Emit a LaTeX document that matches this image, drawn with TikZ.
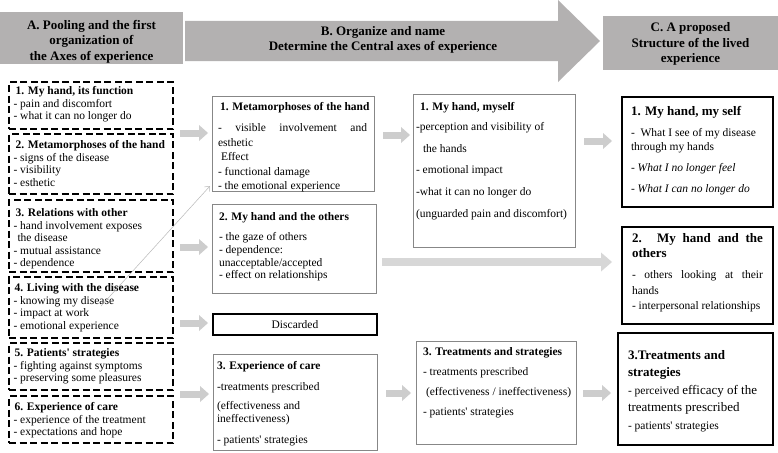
\documentclass[tikz,border=0pt]{standalone}
\usepackage{fontspec}
\setmainfont{Liberation Serif}
\usetikzlibrary{arrows.meta,calc}
\definecolor{headgray}{RGB}{179,177,177}
\definecolor{argray}{RGB}{205,205,205}
\definecolor{longgray}{RGB}{215,215,215}
\definecolor{bordergray}{RGB}{135,135,135}
\definecolor{thingray}{RGB}{185,185,185}
\begin{document}
\begin{tikzpicture}[x=1pt,y=-1pt,
  every node/.style={inner sep=0pt,outer sep=0pt},
  abox/.style={draw,line width=1.3pt,dash pattern=on 7pt off 3.5pt,anchor=north west},
  bbox/.style={draw=bordergray,line width=0.8pt,anchor=north west},
  dbox/.style={draw,line width=2.6pt,anchor=north west},
  discbox/.style={draw,line width=1.3pt,anchor=north west,font=\fontsize{11.5}{13}\selectfont},
  tx/.style={anchor=north west,align=left,font=\fontsize{11.5}{12.6}\selectfont},
  hd/.style={align=center,font=\fontsize{13}{15.5}\selectfont\bfseries},
  garrow/.style={draw=argray,line width=7pt,-{Triangle[length=9pt,width=16pt,line width=0pt]}},
  longarrow/.style={draw=longgray,line width=8pt,-{Triangle[length=11pt,width=19pt,line width=0pt]}},
  thinarrow/.style={draw=thingray,line width=0.5pt,-{Straight Barb[length=4pt,width=7pt]}},
]
\useasboundingbox (0,0) rectangle (778,452);
\fill[white] (0,0) rectangle (778,452);

% headers
\fill[headgray] (0,12) rectangle (183,64);
\node[hd] (ha) at (91.5,41.5) {A. Pooling and the first\\organization of\\the Axes of experience};
\fill[headgray] (185,21) -- (558,21) -- (558,0) -- (600,41) -- (558,82) -- (558,61) -- (185,61) -- cycle;
\node[hd] (hb) at (383,40) {B. Organize and name\\Determine the Central axes of experience};
\fill[headgray] (603,16) rectangle (778,70);
\node[hd] (hc) at (690.5,44) {C. A proposed\\Structure of the lived\\experience};

% column A
\node[abox,minimum width=164pt,minimum height=47pt] (a1) at (9,82) {};
\node[tx] (a1t) at (13.5,86.5) {\hspace*{2pt}\textbf{1. My hand, its function}\\- pain and discomfort\\- what it can no longer do};
\node[abox,minimum width=164pt,minimum height=60pt] (a2) at (9,134) {};
\node[tx] (a2t) at (13.5,140.5) {\hspace*{2pt}\textbf{2. Metamorphoses of the hand}\\- signs of the disease\\- visibility\\- esthetic};
\node[abox,minimum width=164pt,minimum height=72pt] (a3) at (9,200) {};
\node[tx] (a3t) at (13.5,208.5) {\hspace*{2pt}\textbf{3. Relations with other}\\- hand involvement exposes\\\hspace*{4pt}the disease\\- mutual assistance\\- dependence};
\node[abox,minimum width=164pt,minimum height=61pt] (a4) at (9,277) {};
\node[tx] (a4t) at (13.5,283.5) {\hspace*{1pt}\textbf{4. Living with the disease}\\- knowing my disease\\- impact at work\\- emotional experience};
\node[abox,minimum width=164pt,minimum height=47pt] (a5) at (9,343) {};
\node[tx] (a5t) at (13.5,348.5) {\hspace*{1pt}\textbf{5. Patients\textquotesingle{} strategies}\\- fighting against symptoms\\- preserving some pleasures};
\node[abox,minimum width=164pt,minimum height=47pt] (a6) at (9,396) {};
\node[tx] (a6t) at (13.5,402.5) {\hspace*{1pt}\textbf{6. Experience of care}\\- experience of the treatment\\- expectations and hope};

% column B
\node[bbox,minimum width=162pt,minimum height=95pt] (b1) at (212,96) {};
\node[tx,font=\fontsize{11.5}{14.5}\selectfont] (b1t) at (218,102.5) {\hspace*{2pt}\textbf{1. Metamorphoses of the hand}\\[6.5pt]\makebox[149pt][s]{- visible involvement and}\\esthetic\\\hspace*{3pt}Effect\\- functional damage\\- the emotional experience};
\node[bbox,minimum width=164pt,minimum height=89pt] (b2) at (212,204) {};
\node[tx,font=\fontsize{11.5}{12.8}\selectfont] (b2t) at (219,212.5) {\textbf{2. My hand and the others}\\[7.2pt]- the gaze of others\\- dependence:\\unacceptable/accepted\\- effect on relationships};
\node[discbox,minimum width=164pt,minimum height=21pt] (bd) at (213,314) {Discarded};
\node[bbox,minimum width=164pt,minimum height=96pt] (b3) at (213,354) {};
\node[tx,font=\fontsize{11.5}{13}\selectfont] (b3t) at (217,361.5) {\textbf{3. Experience of care}\\[8pt]-treatments prescribed\\[6pt](effectiveness and\\ineffectiveness)\\[8pt]- patients\textquotesingle{} strategies};

% column C
\node[bbox,minimum width=162pt,minimum height=153pt] (c1) at (413,94) {};
\node[tx,font=\fontsize{11.5}{21.8}\selectfont] (c1t) at (416,102.5) {\hspace*{4pt}\textbf{1. My hand, myself}\\[-2pt]-perception and visibility of\\\hspace*{7pt}the hands\\- emotional impact\\-what it can no longer do\\(unguarded pain and discomfort)};
\node[bbox,minimum width=160pt,minimum height=103pt] (c3) at (416,341) {};
\node[tx,font=\fontsize{11.5}{20}\selectfont] (c3t) at (423,347.5) {\textbf{3. Treatments and strategies}\\- treatments prescribed\\\hspace*{3pt}(effectiveness / ineffectiveness)\\- patients\textquotesingle{} strategies};

% column D
\node[dbox,minimum width=151pt,minimum height=110pt] (d1) at (622,97) {};
\node[tx,font=\fontsize{11.5}{14}\selectfont] (d1t) at (631,106) {{\fontsize{13}{15}\selectfont\bfseries 1. My hand, my self}\\[7.5pt]-\ \ What I see of my disease\\through my hands\\[7pt]\textit{- What I no longer feel}\\[7pt]\textit{- What I can no longer do}};
\node[dbox,minimum width=151pt,minimum height=97pt] (d2) at (622,227) {};
\node[tx,font=\fontsize{11.5}{15.5}\selectfont] (d2t) at (632,233) {{\fontsize{13}{15}\selectfont\bfseries\makebox[131pt][s]{2. My hand and the}}\\[-0.5pt]{\fontsize{13}{15}\selectfont\bfseries others}\\[6pt]\makebox[131pt][s]{-\ others looking at their}\\hands\\- interpersonal relationships};
\node[dbox,minimum width=155pt,minimum height=112pt] (d3) at (618,333) {};
\node[tx,font=\fontsize{11.5}{17.5}\selectfont] (d3t) at (628,350) {{\fontsize{13}{15}\selectfont\bfseries 3.Treatments and}\\{\fontsize{13}{15}\selectfont\bfseries strategies}\\- perceived {\fontsize{13}{15}\selectfont efficacy of the}\\{\fontsize{13}{15}\selectfont treatments prescribed}\\- patients\textquotesingle{} strategies};

% arrows A -> B
\coordinate (r1) at (180,133);
\coordinate (r2) at (180,247);
\coordinate (r3) at (180,323);
\coordinate (r4) at (180,394);
\draw[garrow] (r1) -- ($(b1.west |- r1)+(-4,0)$);
\draw[garrow] (r2) -- ($(b2.west |- r2)+(-4,0)$);
\draw[garrow] (r3) -- ($(bd.west |- r3)+(-5,0)$);
\draw[garrow] (r4) -- ($(b3.west |- r4)+(-4,0)$);
% arrows B -> C
\coordinate (s1) at (383,135);
\coordinate (s3) at (386,393);
\draw[garrow] (s1) -- ($(c1.west |- s1)+(-3,0)$);
\draw[garrow] (s3) -- ($(c3.west |- s3)+(-5,0)$);
% long arrow B2 -> D2
\coordinate (s2) at (382,262);
\draw[longarrow] (s2) -- ($(d2.west |- s2)+(-10,0)$);
% arrows C -> D
\coordinate (t1) at (584,141);
\coordinate (t3) at (583,393);
\draw[garrow] (t1) -- ($(d1.west |- t1)+(-10,0)$);
\draw[garrow] (t3) -- ($(d3.west |- t3)+(-7,0)$);
% thin diagonal arrow
\coordinate (tstart) at (101,306);
\draw[thinarrow] (tstart) -- ($(b1.south west)+(-2,-5)$);
\end{tikzpicture}
\end{document}
